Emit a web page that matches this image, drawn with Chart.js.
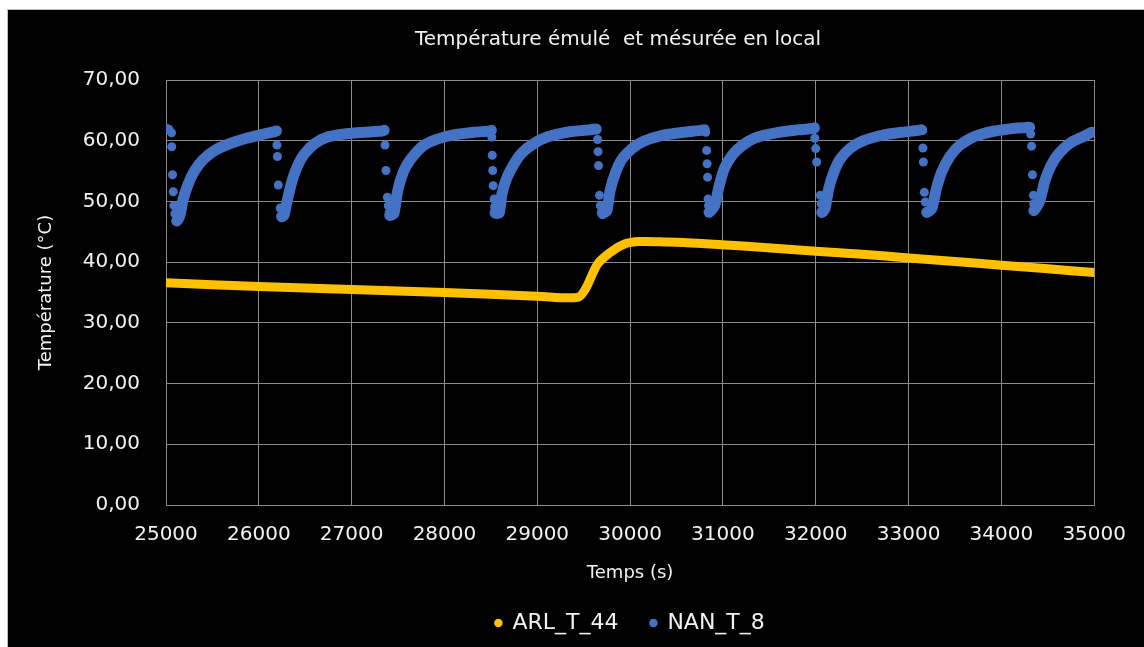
<!DOCTYPE html>
<html>
<head>
<meta charset="utf-8">
<script src="https://cdn.jsdelivr.net/npm/chart.js@4.4.1/dist/chart.umd.min.js"></script>
<style>
  html, body { margin: 0; padding: 0; background: #fff; }
  #wrap {
    position: absolute; left: 7px; top: 9px; width: 1136px; height: 638px;
    background: #000; border-left: 1px solid #bfbfbf; border-top: 1px solid #bfbfbf;
  }
</style>
</head>
<body>
<div id="wrap"><canvas id="tempChart"></canvas></div>
<script>
// ARL_T_44 - emulated temperature
const arlTime = [25000, 26000, 27000, 28000, 29000, 29435, 29520, 29650, 29795, 29940, 30100, 30400, 30725, 31260, 32000, 32500, 33000, 33500, 34000, 34500, 35000];
const arlTemp = [36.6, 36.0, 35.5, 35.0, 34.4, 34.2, 35.6, 39.7, 41.7, 43.0, 43.4, 43.3, 43.1, 42.6, 41.8, 41.3, 40.7, 40.1, 39.5, 38.9, 38.3];

// NAN_T_8 - measured temperature, one block per cooling cycle
const nanTime = [
  25000, 25030, 25060, 25062, 25070, 25078, 25085, 25095, 25115,
  25150, 25185, 25240, 25310, 25400, 25525, 25685, 25865, 26025, 26170, 26190,
  26195, 26200, 26210, 26230, 26245,
  26270, 26310, 26355, 26410, 26490, 26600, 26740, 26920, 27135, 27330, 27350,
  27360, 27370, 27385, 27395, 27405, 27410,
  27455, 27490, 27530, 27590, 27680, 27785, 27930, 28110, 28320, 28490, 28505,
  28510, 28515, 28520, 28525, 28535, 28540, 28545,
  28590, 28620, 28675, 28750, 28835, 28960, 29105, 29320, 29570, 29635,
  29650, 29655, 29660, 29670, 29680, 29690, 29705,
  29750, 29785, 29840, 29910, 30020, 30145, 30325, 30535, 30760, 30800,
  30815, 30825, 30830, 30835, 30840, 30845, 30850,
  30910, 30960, 31015, 31105, 31215, 31355, 31570, 31815, 31960, 31985,
  31990, 32000, 32010, 32050, 32058, 32065,
  32100, 32140, 32195, 32265, 32375, 32515, 32715, 32930, 33100, 33140,
  33150, 33155, 33160, 33170, 33180, 33195,
  33250, 33300, 33355, 33445, 33555, 33715, 33930, 34170, 34280, 34305,
  34315, 34325, 34335, 34345, 34348, 34350,
  34410, 34465, 34535, 34625, 34750, 34885, 34975
];
const nanTemp = [
  62.1, 61.9, 61.3, 59.0, 54.4, 51.6, 49.3, 48.0, 46.8,
  47.7, 50.4, 52.9, 55.1, 56.9, 58.4, 59.5, 60.4, 61.0, 61.5, 61.6,
  59.3, 57.4, 52.7, 48.9, 47.5,
  47.7, 50.4, 53.2, 55.6, 57.8, 59.5, 60.6, 61.1, 61.4, 61.6, 61.7,
  59.3, 55.1, 50.7, 49.3, 48.2, 47.7,
  48.0, 51.3, 53.7, 55.9, 57.8, 59.3, 60.3, 61.0, 61.4, 61.6, 61.7,
  60.6, 57.6, 55.1, 52.6, 50.4, 49.1, 48.1,
  48.1, 51.3, 54.0, 56.2, 58.0, 59.5, 60.6, 61.4, 61.8, 61.9,
  60.2, 58.2, 55.9, 51.0, 49.3, 48.2, 48.0,
  48.5, 51.8, 54.6, 56.9, 58.7, 59.9, 60.8, 61.3, 61.7, 61.8,
  61.4, 58.4, 56.2, 54.0, 50.4, 49.3, 48.2,
  49.3, 52.6, 55.4, 57.7, 59.3, 60.5, 61.3, 61.8, 62.0, 62.1,
  60.4, 58.7, 56.5, 51.0, 49.6, 48.2,
  48.8, 52.1, 54.8, 57.0, 58.8, 60.0, 60.9, 61.4, 61.7, 61.8,
  61.7, 58.8, 56.5, 51.5, 49.9, 48.2,
  48.8, 52.1, 54.8, 57.4, 59.3, 60.7, 61.6, 62.1, 62.2, 62.2,
  61.1, 59.1, 54.4, 51.0, 49.6, 48.5,
  49.9, 53.2, 55.9, 58.0, 59.7, 60.7, 61.4
];

const yTicks = [0, 10, 20, 30, 40, 50, 60, 70];

const FONT = "'DejaVu Sans', sans-serif";
const WHITE = '#f2f2f2';
const GRID = '#8a8a8a';

const toPoints = (xs, ys) => xs.map((x, i) => ({ x: x, y: ys[i] }));

// title and legend are centred a bit to the right, over the plot area
const boxShift = {
  id: 'boxShift',
  afterLayout(chart) {
    const a = chart.chartArea;
    const lg = chart.legend;
    lg.left = a.left; lg.right = a.right; lg.width = a.right - a.left;
    lg.top -= 4; lg.bottom -= 4;
    const t = chart.titleBlock;
    t.left = 120; t.right = 1100; t.width = 980;
  }
};

const ctx = document.getElementById('tempChart').getContext('2d');
const chart = new Chart(ctx, {
  type: 'scatter',
  data: {
    datasets: [
      {
        label: 'ARL_T_44',
        data: toPoints(arlTime, arlTemp),
        showLine: true,
        borderColor: '#FFC000',
        backgroundColor: '#FFC000',
        borderWidth: 9,
        borderCapStyle: 'round',
        borderJoinStyle: 'round',
        pointRadius: 0,
        tension: 0.3
      },
      {
        label: 'NAN_T_8',
        data: toPoints(nanTime, nanTemp),
        showLine: true,
        borderColor: '#4472C4',
        backgroundColor: '#4472C4',
        borderWidth: 11,
        borderCapStyle: 'round',
        borderJoinStyle: 'round',
        pointRadius: 4.5,
        pointBorderWidth: 0,
        tension: 0.2,
        // the fast drop is only a few scattered samples: no line there
        segment: {
          borderColor: c => c.p1.parsed.y < c.p0.parsed.y ? 'rgba(0,0,0,0)' : undefined
        }
      }
    ]
  },
  options: {
    responsive: true,
    maintainAspectRatio: false,
    animation: false,
    layout: { padding: { left: 0, right: 45, top: 0, bottom: 0 } },
    plugins: {
      tooltip: { enabled: false },
      title: {
        display: true,
        text: 'Température émulé  et mésurée en local',
        color: WHITE,
        font: { family: FONT, size: 20, weight: 'normal' },
        padding: { top: 18, bottom: 28 }
      },
      legend: {
        position: 'bottom',
        labels: {
          color: WHITE,
          usePointStyle: true,
          boxWidth: 6,
          boxHeight: 6,
          padding: 32,
          font: { family: FONT, size: 22 },
          generateLabels: c => Chart.defaults.plugins.legend.labels.generateLabels(c)
            .map(l => Object.assign(l, { lineWidth: 0, strokeStyle: l.fillStyle }))
        }
      }
    },
    scales: {
      x: {
        type: 'linear',
        min: 25000,
        max: 35000,
        afterFit: s => { s.height = 79; },
        grid: { color: GRID, drawTicks: false },
        border: { color: GRID },
        ticks: {
          stepSize: 1000,
          padding: 18,
          color: WHITE,
          font: { family: FONT, size: 20 },
          callback: v => String(v)
        },
        title: {
          display: true,
          text: 'Temps (s)',
          color: WHITE,
          font: { family: FONT, size: 18 },
          padding: { top: 0, bottom: 0 }
        }
      },
      y: {
        min: 0,
        max: 70,
        afterFit: s => { s.width = 158; },
        afterBuildTicks: s => { s.ticks = yTicks.map(v => ({ value: v })); },
        grid: { color: GRID, drawTicks: false },
        border: { color: GRID },
        ticks: {
          padding: 26,
          color: WHITE,
          font: { family: FONT, size: 20 },
          callback: v => v.toFixed(2).replace('.', ',')
        },
        title: {
          display: true,
          text: 'Température (°C)',
          color: WHITE,
          font: { family: FONT, size: 18 },
          padding: { top: 28, bottom: 0 }
        }
      }
    }
  },
  plugins: [boxShift]
});
</script>
</body>
</html>
